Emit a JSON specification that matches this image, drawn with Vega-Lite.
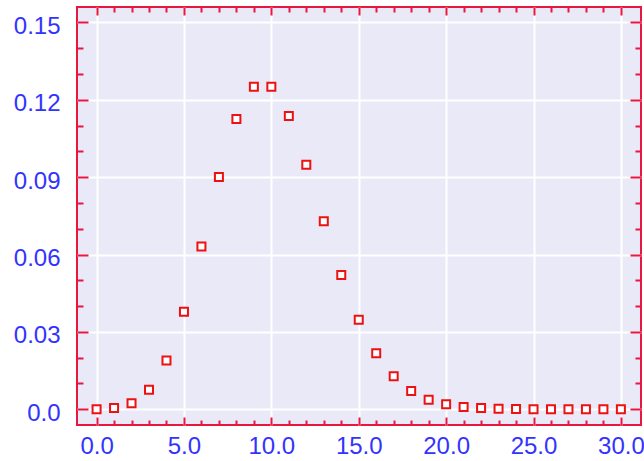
{
  "$schema": "https://vega.github.io/schema/vega-lite/v6.json",
  "width": 564,
  "height": 418,
  "autosize": {"type": "none"},
  "padding": {"left": 77, "top": 7, "right": 3, "bottom": 36},
  "background": "white",
  "config": {
    "view": {"fill": "#e9e9f7", "stroke": "#e8173f", "strokeWidth": 2},
    "axis": {
      "domain": false,
      "title": null,
      "tickColor": "#e8173f",
      "tickWidth": 2,
      "labelFont": "Liberation Sans",
      "labelFontSize": 24,
      "labelColor": "#3333ff",
      "labelFlush": false,
      "labelOverlap": false,
      "gridColor": "#ffffff",
      "gridWidth": 2,
      "gridOpacity": 1
    }
  },
  "data": {
    "values": [
      {"k": 0, "p": 0.00005},
      {"k": 1, "p": 0.00045},
      {"k": 2, "p": 0.0023},
      {"k": 3, "p": 0.0076},
      {"k": 4, "p": 0.0189},
      {"k": 5, "p": 0.0378},
      {"k": 6, "p": 0.0631},
      {"k": 7, "p": 0.0901},
      {"k": 8, "p": 0.1126},
      {"k": 9, "p": 0.1251},
      {"k": 10, "p": 0.1251},
      {"k": 11, "p": 0.1137},
      {"k": 12, "p": 0.0948},
      {"k": 13, "p": 0.0729},
      {"k": 14, "p": 0.0521},
      {"k": 15, "p": 0.0347},
      {"k": 16, "p": 0.0217},
      {"k": 17, "p": 0.0128},
      {"k": 18, "p": 0.0071},
      {"k": 19, "p": 0.0037},
      {"k": 20, "p": 0.0019},
      {"k": 21, "p": 0.0009},
      {"k": 22, "p": 0.0005},
      {"k": 23, "p": 0.0002},
      {"k": 24, "p": 0.0001},
      {"k": 25, "p": 0.00004},
      {"k": 26, "p": 0.00001},
      {"k": 27, "p": 0.0},
      {"k": 28, "p": 0.0},
      {"k": 29, "p": 0.0},
      {"k": 30, "p": 0.0}
    ]
  },
  "layer": [
    {
      "mark": {"type": "square", "size": 64, "fill": "#ffffff", "stroke": "#ee1111", "strokeWidth": 2, "opacity": 1},
      "encoding": {
        "x": {
          "field": "k", "type": "quantitative",
          "scale": {"domain": [-1.12, 31.15], "nice": false, "zero": false},
          "axis": {"orient": "bottom", "values": [0, 5, 10, 15, 20, 25, 30], "format": ".1f", "tickSize": -8, "labelPadding": 17, "grid": true}
        },
        "y": {
          "field": "p", "type": "quantitative",
          "scale": {"domain": [-0.0061, 0.156], "nice": false, "zero": false},
          "axis": {"orient": "left", "values": [0, 0.03, 0.06, 0.09, 0.12, 0.15], "labelExpr": "datum.value == 0 ? '0.0' : format(datum.value, '.2f')", "tickSize": -11, "labelPadding": 28, "labelOffset": 4, "grid": true}
        }
      }
    },
    {
      "mark": {"type": "square", "opacity": 0},
      "encoding": {
        "x": {
          "field": "k", "type": "quantitative",
          "scale": {"domain": [-1.12, 31.15], "nice": false, "zero": false},
          "axis": {"orient": "bottom", "values": [1,2,3,4,6,7,8,9,11,12,13,14,16,17,18,19,21,22,23,24,26,27,28,29], "labels": false, "tickSize": -5, "grid": false}
        },
        "y": {
          "field": "p", "type": "quantitative",
          "scale": {"domain": [-0.0061, 0.156], "nice": false, "zero": false},
          "axis": {"orient": "left", "values": [0.01, 0.02, 0.04, 0.05, 0.07, 0.08, 0.1, 0.11, 0.13, 0.14], "labels": false, "tickSize": -6, "grid": false}
        }
      }
    },
    {
      "mark": {"type": "square", "opacity": 0},
      "encoding": {
        "x": {
          "field": "k", "type": "quantitative",
          "scale": {"domain": [-1.12, 31.15], "nice": false, "zero": false},
          "axis": {"orient": "top", "values": [0, 5, 10, 15, 20, 25, 30], "labels": false, "tickSize": -8, "grid": false}
        },
        "y": {
          "field": "p", "type": "quantitative",
          "scale": {"domain": [-0.0061, 0.156], "nice": false, "zero": false},
          "axis": {"orient": "right", "values": [0, 0.03, 0.06, 0.09, 0.12, 0.15], "labels": false, "tickSize": -11, "grid": false}
        }
      }
    },
    {
      "mark": {"type": "square", "opacity": 0},
      "encoding": {
        "x": {
          "field": "k", "type": "quantitative",
          "scale": {"domain": [-1.12, 31.15], "nice": false, "zero": false},
          "axis": {"orient": "top", "values": [1,2,3,4,6,7,8,9,11,12,13,14,16,17,18,19,21,22,23,24,26,27,28,29], "labels": false, "tickSize": -5, "grid": false}
        },
        "y": {
          "field": "p", "type": "quantitative",
          "scale": {"domain": [-0.0061, 0.156], "nice": false, "zero": false},
          "axis": {"orient": "right", "values": [0.01, 0.02, 0.04, 0.05, 0.07, 0.08, 0.1, 0.11, 0.13, 0.14], "labels": false, "tickSize": -6, "grid": false}
        }
      }
    }
  ],
  "resolve": {"axis": {"x": "independent", "y": "independent"}}
}
